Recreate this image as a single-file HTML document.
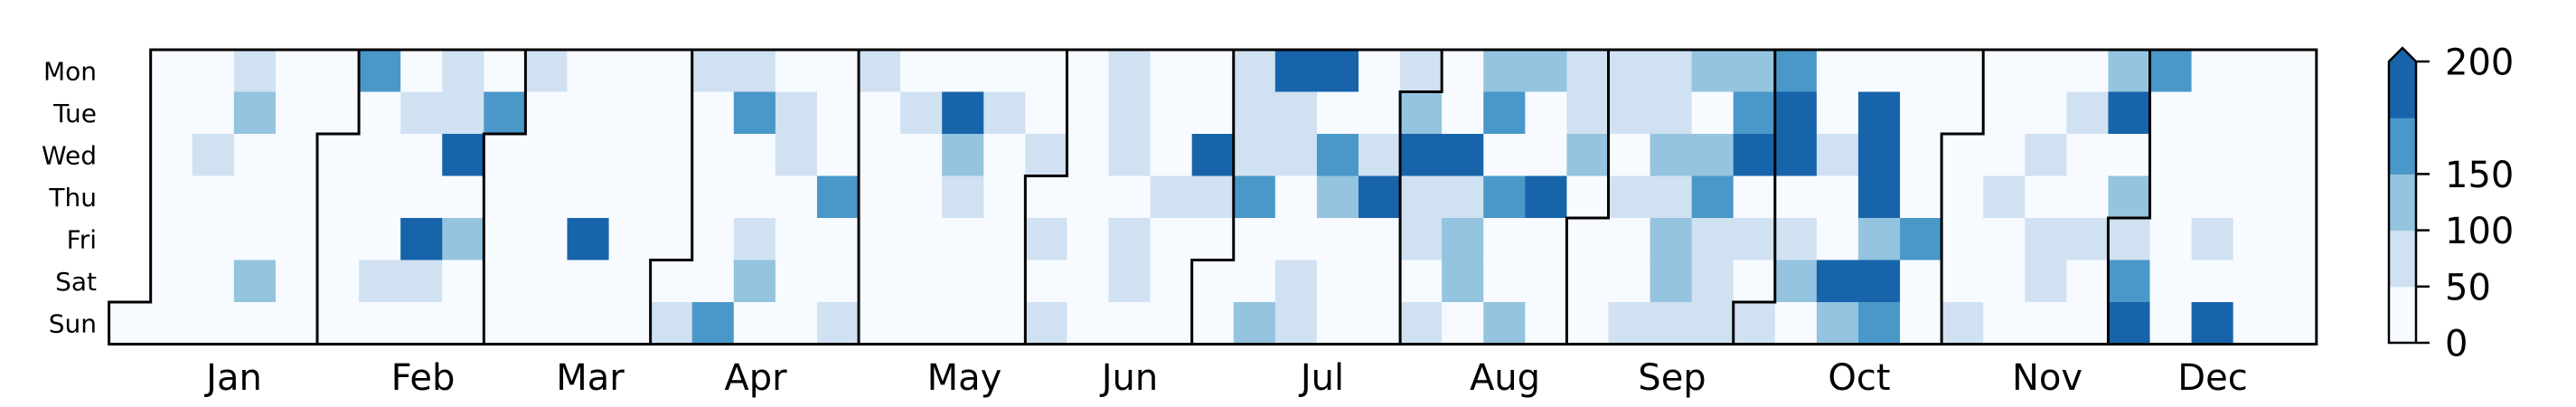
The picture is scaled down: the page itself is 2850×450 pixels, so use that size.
<!DOCTYPE html>
<html><head><meta charset="utf-8"><style>
html,body{margin:0;padding:0;background:#fff;}
svg{display:block;font-family:"DejaVu Sans","Liberation Sans",sans-serif;}
</style></head><body>
<svg id="chart" width="2850" height="450" viewBox="0 0 2850 450" xmlns="http://www.w3.org/2000/svg">
<g id="cells"></g>
<g id="borders"></g>
<g id="daylabels"></g>
<g id="monthlabels"></g>
<g id="cbar"></g>
</svg>
<script>
// weekly values, Mon..Sun; null = outside year
const weekValues = [
[null,null,null,null,null,null,20],[20,20,20,20,20,20,20],[20,20,70,20,20,20,20],[70,120,20,20,20,120,20],
[20,20,20,20,20,20,20],[20,20,20,20,20,20,20],[165,20,20,20,20,70,20],[20,70,20,20,210,70,20],
[70,70,210,20,120,20,20],[20,165,20,20,20,20,20],[70,20,20,20,20,20,20],[20,20,20,20,210,20,20],
[20,20,20,20,20,20,20],[20,20,20,20,20,20,70],[70,20,20,20,20,20,165],[70,165,20,20,70,120,20],
[20,70,70,20,20,20,20],[20,20,20,165,20,20,70],[70,20,20,20,20,20,20],[20,70,20,20,20,20,20],
[20,210,120,70,20,20,20],[20,70,20,20,20,20,20],[20,20,70,20,70,20,70],[20,20,20,20,20,20,20],
[70,70,70,20,70,70,20],[20,20,20,70,20,20,20],[20,20,210,70,20,20,20],[70,70,70,165,20,20,120],
[210,70,70,20,20,70,70],[210,20,165,120,20,20,20],[20,20,70,210,20,20,20],[70,120,210,70,70,20,70],
[20,20,210,70,120,120,20],[120,165,20,165,20,20,120],[120,20,20,210,20,20,20],[70,70,120,20,20,20,20],
[70,70,20,70,20,20,70],[70,70,120,70,120,120,70],[120,20,120,165,70,70,70],[120,165,210,20,70,20,70],
[165,210,210,20,70,120,20],[20,20,70,20,20,210,120],[20,210,210,210,120,210,165],[20,20,20,20,165,20,20],
[20,20,20,20,20,20,70],[20,20,20,70,20,20,20],[20,20,70,20,70,70,20],[20,70,20,20,70,20,20],
[120,210,20,120,70,165,210],[165,20,20,20,20,20,20],[20,20,20,20,70,20,210],[20,20,20,20,20,20,20],
[20,20,20,20,20,20,20]
];
const dayNames = ["Mon","Tue","Wed","Thu","Fri","Sat","Sun"];
const monthNames = ["Jan","Feb","Mar","Apr","May","Jun","Jul","Aug","Sep","Oct","Nov","Dec"];
const monthStartDays = [0,31,59,90,120,151,181,212,243,273,304,334];
const monthLabelX = [259,468,653,836,1067,1250,1463,1665,1850,2057,2265,2448];
const colorBounds = [0,50,100,150,175,200];
const colorTicks = [0,50,100,150,200];
const colors = ["#f7fbff","#d0e1f2","#94c4df","#4a98c9","#1764ab"];

const NS="http://www.w3.org/2000/svg";
const X0=120.6, CW=46.08, Y0=55, CH=46.5;
const xOf=c=>X0+CW*c, yOf=r=>Y0+CH*r;
function colorFor(v){for(let i=colors.length-1;i>=0;i--){if(v>=colorBounds[i])return colors[i];}return colors[0];}
function mk(tag,attrs,parent){const e=document.createElementNS(NS,tag);for(const k in attrs)e.setAttribute(k,attrs[k]);parent.appendChild(e);return e;}

const gCells=document.getElementById('cells');
weekValues.forEach((wk,c)=>{wk.forEach((v,r)=>{
  if(v===null)return;
  const e=mk('rect',{x:xOf(c),y:yOf(r),width:CW+0.6,height:CH+0.6,fill:colorFor(v)},gCells);
  
  
});});

const gB=document.getElementById('borders');
const st={fill:'none',stroke:'#000','stroke-width':3,'stroke-linejoin':'miter'};
// outer outline
const startDay0=6; // Jan 1 row (Sun)
let op=`M${xOf(0)},${yOf(7)} L${xOf(0)},${yOf(6)} L${xOf(1)},${yOf(6)} L${xOf(1)},${yOf(0)} L${xOf(53)},${yOf(0)} L${xOf(53)},${yOf(7)} Z`;
const outline=mk('path',Object.assign({d:op},st),gB);


monthStartDays.slice(1).forEach(d=>{
  const c=Math.floor((d+6)/7), r=(d+6)%7;
  let p;
  if(r===0)p=`M${xOf(c)},${yOf(7)} L${xOf(c)},${yOf(0)}`;
  else p=`M${xOf(c)},${yOf(7)} L${xOf(c)},${yOf(r)} L${xOf(c+1)},${yOf(r)} L${xOf(c+1)},${yOf(0)}`;
  const e=mk('path',Object.assign({d:p},st),gB);
  
  
});

const gD=document.getElementById('daylabels');
dayNames.forEach((n,r)=>{
  const t=mk('text',{x:107,y:yOf(r)+CH/2+10,'text-anchor':'end','font-size':28},gD);
  t.textContent=n;
  
  
});
const gM=document.getElementById('monthlabels');
monthNames.forEach((n,i)=>{
  const t=mk('text',{x:monthLabelX[i],y:431,'text-anchor':'middle','font-size':40},gM);
  t.textContent=n;
  
  
});

// colorbar
const gC=document.getElementById('cbar');
const CBX=2643, CBW=30, CBT=68, CBB=379;
const bandH=(CBB-CBT)/colors.length;
const cbY=v=>{ // map value to band position (uniform bands)
  for(let i=0;i<colorBounds.length-1;i++){if(v<=colorBounds[i+1]){return CBB-bandH*(i+(v-colorBounds[i])/(colorBounds[i+1]-colorBounds[i]));}}
  return CBT;};
colors.forEach((col,i)=>{
  const e=mk('rect',{x:CBX,y:CBB-bandH*(i+1),width:CBW,height:bandH+0.5,fill:col},gC);
  
  
});
const arrow=mk('path',{d:`M${CBX},${CBT} L${CBX+CBW/2},${CBT-15} L${CBX+CBW},${CBT} Z`,fill:colors[colors.length-1]},gC);


const cbo=mk('path',{d:`M${CBX},${CBB} L${CBX},${CBT} L${CBX+CBW/2},${CBT-15} L${CBX+CBW},${CBT} L${CBX+CBW},${CBB} Z`,fill:'none',stroke:'#000','stroke-width':2.5},gC);


colorTicks.forEach(v=>{
  const y=cbY(v);
  const l=mk('line',{x1:CBX+CBW,x2:CBX+CBW+15,y1:y,y2:y,stroke:'#000','stroke-width':2.5},gC);
  
  
  const t=mk('text',{x:2705,y:y+14.5,'font-size':40},gC);
  t.textContent=String(v);
  
  
});
</script>
</body></html>
